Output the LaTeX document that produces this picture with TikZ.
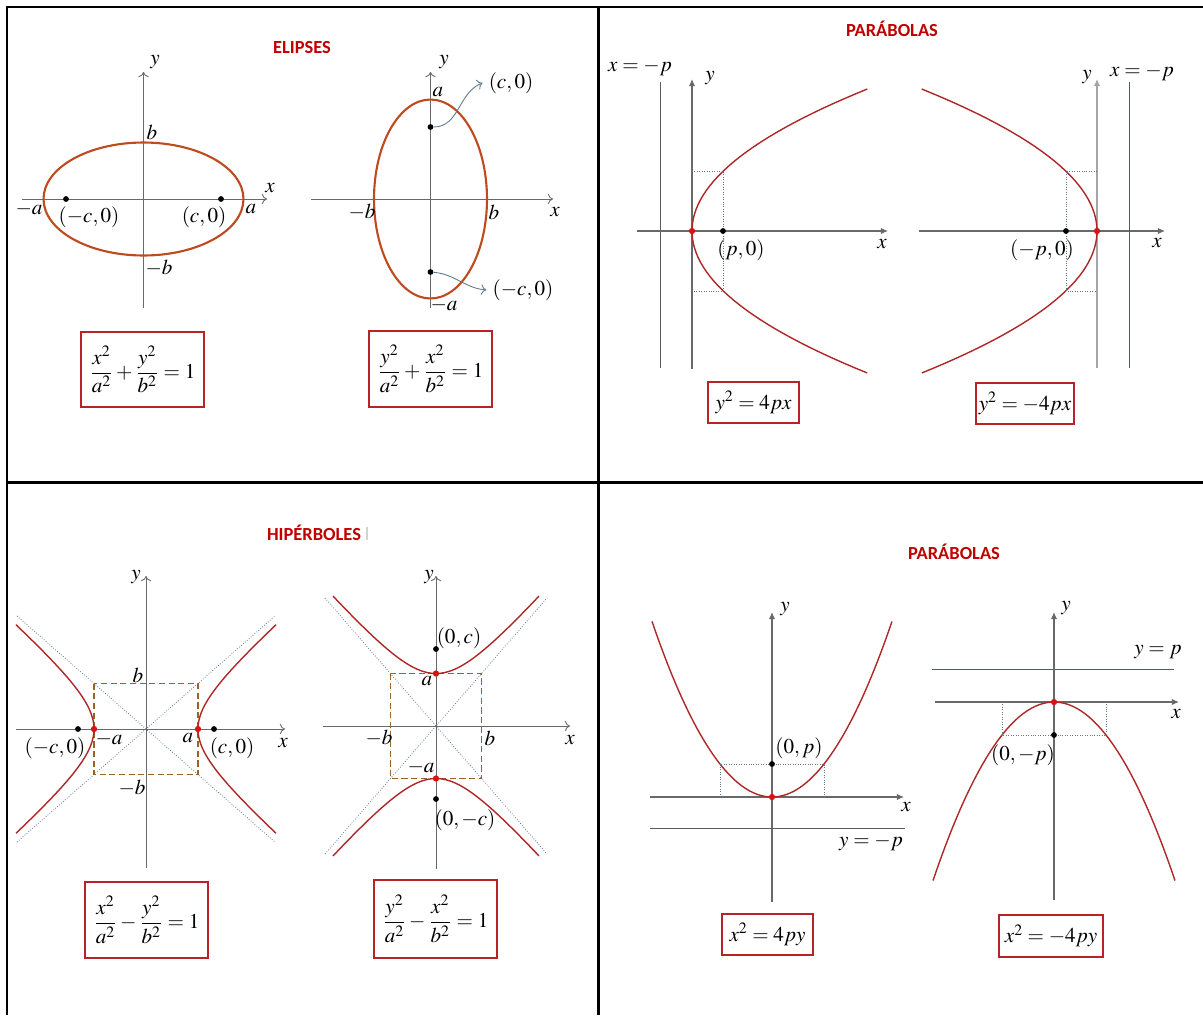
\documentclass[tikz,border=0pt]{standalone}
\usepackage{amsmath}
\usepackage{mathptmx}
\usepackage[no-math]{fontspec}
\newfontfamily\titulofont{Carlito}
\usetikzlibrary{arrows.meta, positioning}
\definecolor{rojoTitulo}{RGB}{192, 0, 0}
\definecolor{rojoCaja}{RGB}{185, 35, 40}
\definecolor{rojoCurva}{RGB}{175, 40, 40}
\definecolor{rojoPunto}{RGB}{215, 20, 20}
\definecolor{naranjaElipse}{RGB}{190, 75, 30}
\definecolor{grisEje}{RGB}{105, 105, 105}
\definecolor{grisDir}{RGB}{80, 92, 102}
\definecolor{azulGris}{RGB}{95, 120, 140}
\definecolor{cafeCaja}{RGB}{150, 100, 40}

\begin{document}
\begin{tikzpicture}[x=0.02cm, y=-0.02cm, font=\large,
        titulo/.style={font=\titulofont\bfseries\fontsize{10.5}{12}\selectfont, text=rojoTitulo},
        caja/.style={rectangle, draw=rojoCaja, line width=1.4pt, inner sep=0pt},
        marco/.style={line width=1.7pt, black},
        eje/.style={draw=grisEje, line width=0.5pt, -{To[length=3pt, width=6pt]}},
        ejeP/.style={draw=grisEje, line width=0.6pt, -{Latex[length=4pt, width=3.5pt]}},
        elipse/.style={draw=naranjaElipse, line width=1.2pt},
        curva/.style={draw=rojoCurva, line width=0.8pt},
        directriz/.style={draw=grisDir, line width=0.5pt},
        punteado/.style={draw=azulGris, line width=0.4pt, densely dotted},
        asintota/.style={draw=azulGris, line width=0.45pt, densely dotted},
        rect/.style={draw=cafeCaja, line width=0.9pt, dash pattern=on 3.5pt off 2pt},
        punto/.style={circle, fill=black, inner sep=0pt, minimum size=3.3pt},
        vertice/.style={circle, fill=rojoPunto, inner sep=0pt, minimum size=3.6pt},
        flecha/.style={draw=azulGris, line width=0.5pt, -{To[length=3pt, width=6pt]}}]

        \useasboundingbox (0,0) rectangle (1203,1015);

        % Marco
        \draw[marco] (7,1015) -- (7,7) -- (1203,7);
        \draw[marco] (598,7) -- (598,1015);
        \draw[marco] (7,482) -- (1203,482);

        % ELIPSES
        \node[titulo] (tE) at (302,48) {ELIPSES};

        % Elipse horizontal
        \draw[eje] (22,199) -- (267,199);
        \draw[eje] (143.5,308) -- (143.5,72);
        \draw[elipse] (143.5,199) ellipse [x radius=2cm, y radius=1.13cm];
        \node[punto] (fe1) at (66,199) {};
        \node[punto] (fe2) at (221,199) {};
        \node (xE1) at (270,188) {$x$};
        \node (yE1) at (155,62) {$y$};
        \node (maE1) at (29,209) {$-a$};
        \node (aE1) at (251,209) {$a$};
        \node (bE1) at (152,132) {$b$};
        \node (mbE1) at (159,268) {$-b$};
        \node (lfe1) at (89,217) {$(-c,0)$};
        \node (lfe2) at (204,217) {$(c,0)$};
        \node[caja, minimum width=2.46cm, minimum height=1.5cm] (ecuE1) at (142.5,369.5) {$\dfrac{x^2}{a^2}+\dfrac{y^2}{b^2}=1$};

        % Elipse vertical
        \draw[eje] (311,199) -- (553,199);
        \draw[eje] (430.5,308) -- (430.5,72);
        \draw[elipse] (430.5,199) ellipse [x radius=1.13cm, y radius=1.99cm];
        \node[punto] (fv1) at (430.5,127) {};
        \node[punto] (fv2) at (430.5,272) {};
        \node (xE2) at (555,212) {$x$};
        \node (yE2) at (444,62) {$y$};
        \node (aE2) at (438,92) {$a$};
        \node (maE2) at (444,305) {$-a$};
        \node (mbE2) at (362,212) {$-b$};
        \node (bE2) at (494,212) {$b$};
        \node (lfv1) at (511,83) {$(c,0)$};
        \node (lfv2) at (523,290) {$(-c,0)$};
        \draw[flecha] (fv1) to[out=0, in=200] (lfv1.west);
        \draw[flecha] (fv2) to[out=-5, in=175] (lfv2.west);
        \node[caja, minimum width=2.46cm, minimum height=1.52cm] (ecuE2) at (430.5,369) {$\dfrac{y^2}{a^2}+\dfrac{x^2}{b^2}=1$};

        % PARABOLAS horizontales
        \node[titulo] (tP1) at (892,29) {PARÁBOLAS};

        \draw[directriz] (660,82) -- (660,368);
        \node (dP1) at (640,67) {$x=-p$};
        \draw[ejeP] (637,231) -- (888,231);
        \draw[ejeP] (692,369) -- (692,79);
        \node (xP1) at (882,244) {$x$};
        \node (yP1) at (710,78) {$y$};
        \draw[curva] plot[domain=-1.42:1.42, samples=60] ({692+\x*\x*100/1.15},{231+100*\x});
        \draw[punteado] (692,171) -- (723,171) -- (723,291) -- (692,291);
        \node[vertice] (vP1) at (692,231) {};
        \node[punto] (fP1) at (723,231) {};
        \node (lfP1) at (741,250) {$(p,0)$};
        \node[caja, minimum width=1.82cm, minimum height=0.82cm] (ecuP1) at (753.5,402.5) {$y^2=4px$};

        \draw[ejeP] (919,231) -- (1165,231);
        \draw[ejeP, draw=grisEje!60] (1097,368) -- (1097,79);
        \draw[directriz] (1129,82) -- (1129,368);
        \node (dP2) at (1142,72) {$x=-p$};
        \node (xP2) at (1157,243) {$x$};
        \node (yP2) at (1087,77) {$y$};
        \draw[curva] plot[domain=-1.42:1.42, samples=60] ({1097-\x*\x*100/1.15},{231+100*\x});
        \draw[punteado] (1097,171) -- (1066,171) -- (1066,291) -- (1097,291);
        \node[vertice] (vP2) at (1097,231) {};
        \node[punto] (fP2) at (1066,231) {};
        \node (lfP2) at (1042,250) {$(-p,0)$};
        \node[caja, minimum width=1.96cm, minimum height=0.82cm] (ecuP2) at (1025,403.5) {$y^2=-4px$};

        % HIPERBOLAS
        \node[titulo] (tH) at (314,533) {HIPÉRBOLES};
        \draw[gray!35, line width=1.5pt] (367,527) -- (367,540);

        % Hiperbola horizontal
        \draw[asintota] (17,616) -- (275,842);
        \draw[asintota] (17,842) -- (275,616);
        \draw[rect] (94,683.5) rectangle (198,774.5);
        \draw[eje] (16,729) -- (285,729);
        \draw[eje] (146,868) -- (146,576);
        \draw[curva] plot[domain=-1.567:1.567, samples=50] ({146+52*cosh(\x)},{729+45.5*sinh(\x)});
        \draw[curva] plot[domain=-1.567:1.567, samples=50] ({146-52*cosh(\x)},{729+45.5*sinh(\x)});
        \node[vertice] (vH1) at (94,729) {};
        \node[vertice] (vH2) at (198,729) {};
        \node[punto] (fH1) at (78,729) {};
        \node[punto] (fH2) at (214,729) {};
        \node (xH1) at (283,743) {$x$};
        \node (yH1) at (136,577) {$y$};
        \node (bH1) at (138,675) {$b$};
        \node (mbH1) at (132,788) {$-b$};
        \node (maH1) at (109,739) {$-a$};
        \node (aH1) at (188,738) {$a$};
        \node (lfH1) at (55,748) {$(-c,0)$};
        \node (lfH2) at (232,748) {$(c,0)$};
        \node[caja, minimum width=2.46cm, minimum height=1.52cm] (ecuH1) at (146.5,920) {$\dfrac{x^2}{a^2}-\dfrac{y^2}{b^2}=1$};

        % Hiperbola vertical
        \draw[asintota] (325,598) -- (547,854);
        \draw[asintota] (325,854) -- (547,598);
        \draw[rect] (390.5,673.5) rectangle (481.5,778.5);
        \draw[eje] (323,726) -- (570,726);
        \draw[eje] (436,869) -- (436,576);
        \draw[curva] plot[domain=-1.556:1.556, samples=50] ({436+45.5*sinh(\x)},{726-52.5*cosh(\x)});
        \draw[curva] plot[domain=-1.556:1.556, samples=50] ({436+45.5*sinh(\x)},{726+52.5*cosh(\x)});
        \node[vertice] (vH3) at (436,673.5) {};
        \node[vertice] (vH4) at (436,778.5) {};
        \node[punto] (fH3) at (436,649) {};
        \node[punto] (fH4) at (436,799) {};
        \node (xH2) at (570,740) {$x$};
        \node (yH2) at (429,577) {$y$};
        \node (aH2) at (427,681) {$a$};
        \node (maH2) at (421,767) {$-a$};
        \node (mbH2) at (379,738) {$-b$};
        \node (bH2) at (490,738) {$b$};
        \node (lfH3) at (459,638) {$(0,c)$};
        \node (lfH4) at (465,820) {$(0,-c)$};
        \node[caja, minimum width=2.46cm, minimum height=1.56cm] (ecuH2) at (435.5,919) {$\dfrac{y^2}{a^2}-\dfrac{x^2}{b^2}=1$};

        % PARABOLAS verticales
        \node[titulo] (tP2) at (954,552) {PARÁBOLAS};

        \draw[ejeP] (650,797) -- (904,797);
        \draw[ejeP] (772,902) -- (772,612);
        \draw[directriz] (650,828) -- (905,828);
        \node (dP3) at (871,842) {$y=-p$};
        \node (xP3) at (906,807) {$x$};
        \node (yP3) at (785,609) {$y$};
        \draw[curva] plot[domain=-1.2:1.2, samples=60] ({772+100*\x},{797-\x*\x*100/0.82});
        \draw[punteado] (720,797) -- (720,764) -- (824,764) -- (824,797);
        \node[vertice] (vP3) at (772,797) {};
        \node[punto] (fP3) at (772,764) {};
        \node (lfP3) at (799,748) {$(0,p)$};
        \node[caja, minimum width=1.82cm, minimum height=0.82cm] (ecuP3) at (767.5,934.5) {$x^2=4py$};

        \draw[directriz] (932,669) -- (1174,669);
        \node (dP4) at (1158,652) {$y=p$};
        \draw[ejeP] (935,702) -- (1179,702);
        \draw[ejeP] (1054,900) -- (1054,612);
        \node (xP4) at (1176,714) {$x$};
        \node (yP4) at (1066,608) {$y$};
        \draw[curva] plot[domain=-1.21:1.21, samples=60] ({1054+100*\x},{702+\x*\x*100/0.82});
        \draw[punteado] (1002,702) -- (1002,735) -- (1106,735) -- (1106,702);
        \node[vertice] (vP4) at (1054,702) {};
        \node[punto] (fP4) at (1054,735) {};
        \node (lfP4) at (1023,755) {$(0,-p)$};
        \node[caja, minimum width=2.08cm, minimum height=0.84cm] (ecuP4) at (1051,936) {$x^2=-4py$};
\end{tikzpicture}
\end{document}
